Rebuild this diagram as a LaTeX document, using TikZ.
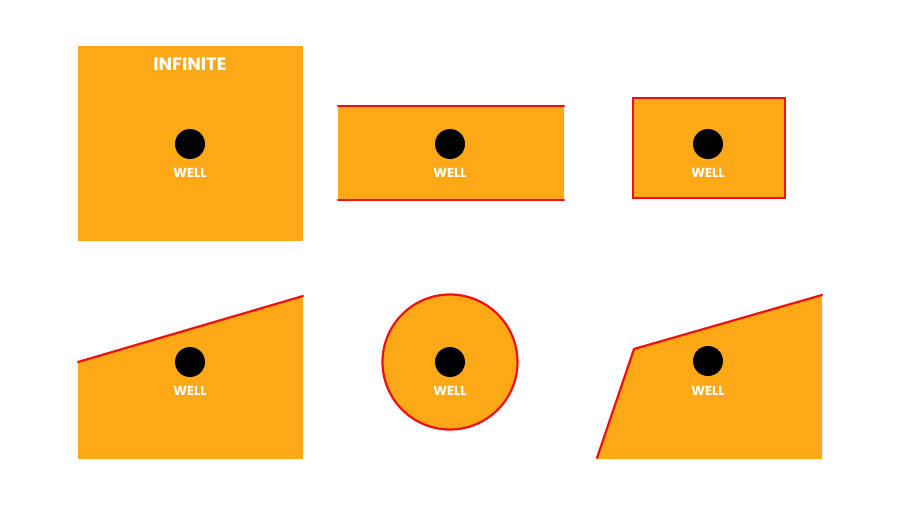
\documentclass[tikz,border=0pt]{standalone}
\usepackage{fontspec}
\newfontfamily\popfont{Poppins}
\definecolor{fillor}{HTML}{FCA817}
\definecolor{edgered}{HTML}{F01010}
\begin{document}
\begin{tikzpicture}[x=1pt,y=-1pt,
  zone/.style={fill=fillor,draw=none},
  bound/.style={draw=edgered,line width=2.2pt,line cap=round},
  welldot/.style={circle,fill=black,minimum size=30pt,inner sep=0pt},
  welllabel/.style={text=white,font=\popfont\bfseries\fontsize{13}{14}\selectfont,inner sep=0pt},
  titlelabel/.style={text=white,font=\popfont\bfseries\fontsize{18}{19}\selectfont,inner sep=0pt}]
\useasboundingbox (0,0) rectangle (900,506);
% 1 infinite
\path[zone] (78,46) rectangle (303,241);
\node[titlelabel] (t1) at (190,64) {INFINITE};
\node[welldot] (w1) at (190,144) {};
\node[welllabel] (l1) at (190,173) {WELL};
% 2 strip
\path[zone] (338,106) rectangle (564,200);
\draw[bound] (338,106) -- (564,106);
\draw[bound] (338,200) -- (564,200);
\node[welldot] (w2) at (450,144) {};
\node[welllabel] (l2) at (450,173) {WELL};
% 3 closed rectangle
\path[zone] (633,98) rectangle (785,198);
\draw[bound,line cap=butt] (633,98) rectangle (785,198);
\node[welldot] (w3) at (708,144) {};
\node[welllabel] (l3) at (708,173) {WELL};
% 4 slanted
\path[zone] (78,362) -- (303,296) -- (303,459) -- (78,459) -- cycle;
\draw[bound] (78,362) -- (303,296);
\node[welldot] (w4) at (190,362) {};
\node[welllabel] (l4) at (190,391) {WELL};
% 5 circle
\path[zone,draw=edgered,line width=2.2pt] (450,362) circle (67.5);
\node[welldot] (w5) at (450,362) {};
\node[welllabel] (l5) at (450,391) {WELL};
% 6 wedge
\path[zone] (597,458) -- (634,349) -- (822,295) -- (822,459) -- (597,459) -- cycle;
\draw[bound,line join=round] (597,458) -- (634,349) -- (822,295);
\node[welldot] (w6) at (708,361) {};
\node[welllabel] (l6) at (708,391) {WELL};
\end{tikzpicture}
\end{document}
